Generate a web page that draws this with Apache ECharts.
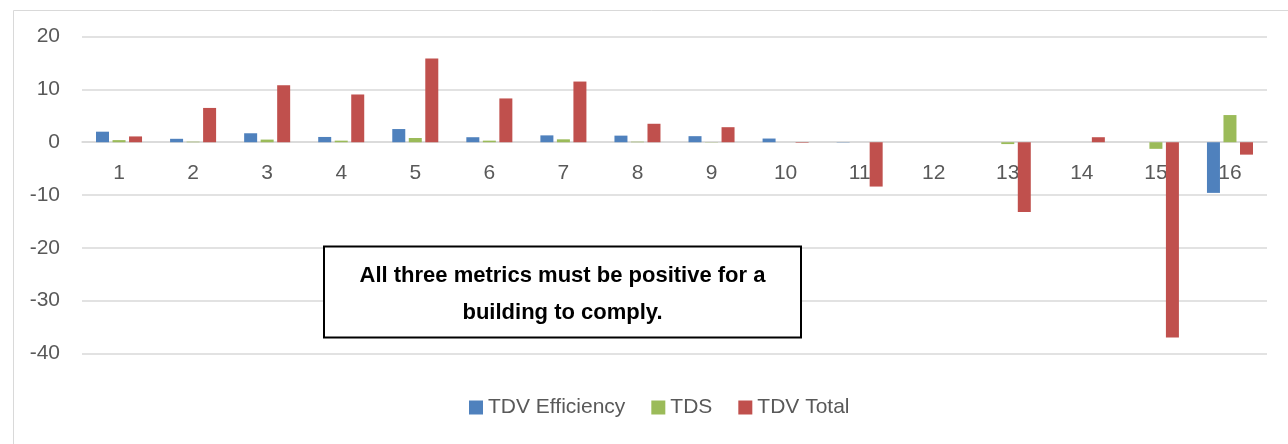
<!DOCTYPE html>
<html>
<head>
<meta charset="utf-8">
<script src="https://cdn.jsdelivr.net/npm/echarts@6/dist/echarts.min.js"></script>
<style>
html,body{margin:0;padding:0;background:#fff;}
#chart{width:1288px;height:444px;}
</style>
</head>
<body>
<div id="chart"></div>
<script>
const categories = ['1','2','3','4','5','6','7','8','9','10','11','12','13','14','15','16'];
const tdvEfficiency = [2.0, 0.65, 1.7, 1.0, 2.5, 0.95, 1.3, 1.25, 1.15, 0.7, -0.05, 0, 0, 0, 0, -9.6];
const tds = [0.4, 0.1, 0.5, 0.3, 0.8, 0.3, 0.55, 0.1, 0.05, 0, 0, 0, -0.35, 0, -1.25, 5.15];
const tdvTotal = [1.1, 6.5, 10.8, 9.05, 15.85, 8.3, 11.5, 3.5, 2.85, -0.1, -8.4, 0, -13.2, 0.95, -37, -2.35];
const yTicks = { min: -40, max: 20, interval: 10 };
const seriesNames = ['TDV Efficiency', 'TDS', 'TDV Total'];
const noteText = 'All three metrics must be positive for a\nbuilding to comply.';

const FONT = '"Liberation Sans", Arial, sans-serif';
const chart = echarts.init(document.getElementById('chart'), null, { renderer: 'canvas' });
const colors = ['#4F81BD', '#9BBB59', '#C0504D'];
const data = [tdvEfficiency, tds, tdvTotal];

const gridTop = 36.7, gridBottomY = 353.3;
// pixel offset of zero line from grid bottom (derived from the axis range)
const zeroOffset = (gridBottomY - gridTop) * (0 - yTicks.min) / (yTicks.max - yTicks.min);

chart.setOption({
  animation: false,
  backgroundColor: '#fff',
  color: colors,
  grid: { left: 82, right: 21, top: gridTop, bottom: 444 - gridBottomY, containLabel: false },
  legend: {
    top: 392,
    left: 464,
    itemWidth: 14,
    itemHeight: 14,
    itemGap: 26,
    icon: 'rect',
    textStyle: { fontFamily: FONT, fontSize: 21, color: '#595959' },
    data: seriesNames
  },
  xAxis: [
    {
      type: 'category',
      data: categories,
      axisLine: { onZero: true, lineStyle: { color: '#d9d9d9', width: 1.5 } },
      axisTick: { show: false },
      axisLabel: { show: false },
      splitLine: { show: false }
    },
    {
      type: 'category',
      data: categories,
      position: 'bottom',
      offset: -zeroOffset,
      axisLine: { show: false, onZero: false },
      axisTick: { show: false },
      axisLabel: { fontFamily: FONT, fontSize: 21, color: '#595959', margin: 20 },
      splitLine: { show: false }
    }
  ],
  yAxis: {
    type: 'value',
    min: yTicks.min,
    max: yTicks.max,
    interval: yTicks.interval,
    axisLine: { show: false },
    axisTick: { show: false },
    axisLabel: { fontFamily: FONT, fontSize: 21, color: '#595959', margin: 22 },
    splitLine: { lineStyle: { color: '#d9d9d9', width: 1.5 } }
  },
  series: seriesNames.map((n, i) => ({
    name: n,
    type: 'bar',
    data: data[i],
    xAxisIndex: 0,
    barWidth: 13,
    barGap: '27%',
    itemStyle: { color: colors[i] }
  })),
  graphic: [
    {
      type: 'rect',
      left: 11, top: 8,
      shape: { width: 1300, height: 435 },
      style: { fill: 'none', stroke: '#d9d9d9', lineWidth: 1 },
      silent: true, z: -1
    },
    {
      type: 'rect',
      shape: { x: 324, y: 246.5, width: 477, height: 91 },
      style: { fill: '#fff', stroke: '#000', lineWidth: 2 },
      z: 100
    },
    {
      type: 'text',
      x: 562.5,
      y: 257,
      style: {
        text: noteText,
        fontFamily: FONT,
        fontSize: 22,
        fontWeight: 'bold',
        fill: '#000',
        align: 'center',
        verticalAlign: 'top',
        lineHeight: 37
      },
      z: 101
    }
  ]
});
</script>
</body>
</html>
